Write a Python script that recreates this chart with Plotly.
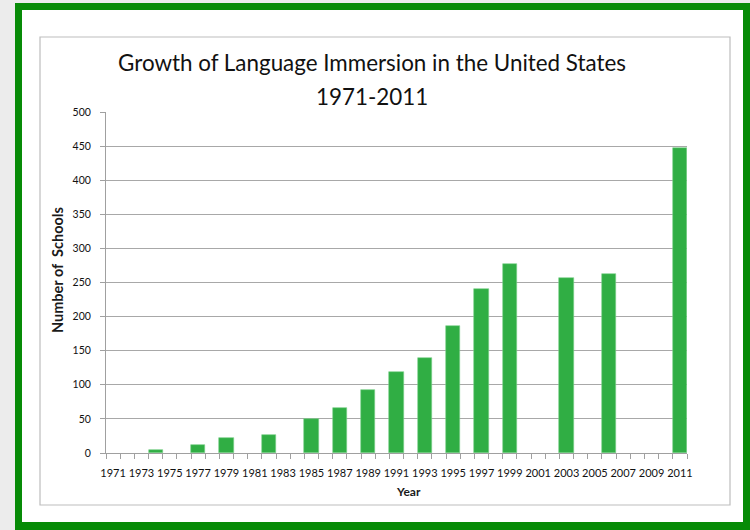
import plotly.graph_objects as go

# ---- data ----
years = [1974, 1977, 1979, 1982, 1985, 1987, 1989, 1991, 1993, 1995, 1997, 1999, 2003, 2006, 2011]
schools = [4, 12, 22, 27, 50, 66, 93, 119, 139, 186, 241, 277, 257, 262, 447]
tick_years = list(range(1971, 2012, 2))
tick_labels = [str(y) for y in tick_years]
y_ticks = list(range(0, 501, 50))
title_line1 = "Growth of Language Immersion in the United States"
title_line2 = "1971-2011"
x_title = "Year"
y_title = "Number of  Schools"

W, H = 750, 530
L, R, T, B = 106, 63, 112, 77
PW, PH = W - L - R, H - T - B


def px_x(px):
    return (px - L) / PW


def px_y(py):
    return 1 - (py - T) / PH


fig = go.Figure()
fig.add_trace(go.Bar(
    x=years, y=schools, width=1,
    marker=dict(color="#30ae44", line=dict(color="#7ad089", width=0.6)),
    showlegend=False,
))

shapes = [
    dict(type="rect", xref="paper", yref="paper", layer="below",
         x0=px_x(15), x1=px_x(770), y0=px_y(3), y1=px_y(545),
         fillcolor="#078b07", line=dict(width=0)),
    dict(type="rect", xref="paper", yref="paper", layer="below",
         x0=px_x(22), x1=px_x(743), y0=px_y(10), y1=px_y(522),
         fillcolor="white", line=dict(width=0)),
    dict(type="rect", xref="paper", yref="paper", layer="below",
         x0=px_x(40), x1=px_x(730), y0=px_y(37), y1=px_y(505),
         fillcolor="rgba(0,0,0,0)", line=dict(color="#bdbdbd", width=1.2)),
]

annotations = [
    dict(text=title_line2, xref="paper", yref="paper", x=px_x(372), y=px_y(96),
         xanchor="center", yanchor="middle", showarrow=False,
         font=dict(family="Lato", size=22.4, color="#111111")),
    dict(text="<b>" + x_title + "</b>", xref="paper", yref="paper", x=px_x(409), y=px_y(492),
         xanchor="center", yanchor="middle", showarrow=False,
         font=dict(family="Lato", size=12, color="#1a1a1a")),
    dict(text="<b>" + y_title + "</b>", xref="paper", yref="paper", x=px_x(57), y=px_y(270),
         xanchor="center", yanchor="middle", showarrow=False, textangle=-90,
         font=dict(family="Lato", size=14.5, color="#1a1a1a")),
]

fig.update_layout(
    width=W, height=H,
    margin=dict(l=L, r=R, t=T, b=B),
    paper_bgcolor="#ececec",
    plot_bgcolor="white",
    shapes=shapes,
    annotations=annotations,
    font=dict(family="Lato", color="#1a1a1a"),
    title=dict(
        text=title_line1,
        x=372 / W, xref="container", xanchor="center",
        y=1 - 63 / H, yref="container", yanchor="middle",
        font=dict(family="Lato", size=22.4, color="#111111"),
    ),
    bargap=0,
)

fig.update_xaxes(
    range=[1970.5, 2011.5],
    tickmode="array", tickvals=tick_years, ticktext=tick_labels,
    ticks="", showgrid=False, ticklabelstandoff=10,
    showline=True, linecolor="#a0a0a0", linewidth=1,
    tickfont=dict(family="Lato", size=11, color="#111111"),
    minor=dict(ticks="outside", ticklen=5, tick0=1970.5, dtick=1,
               tickcolor="#a0a0a0", tickwidth=1, showgrid=False),
    zeroline=False,
)
fig.update_yaxes(
    range=[0, 500], tickmode="array", tickvals=y_ticks,
    showgrid=True, gridcolor="#a8a8a8", gridwidth=1,
    showline=True, linecolor="#a0a0a0", linewidth=1,
    ticks="outside", ticklen=5, tickcolor="#a0a0a0", ticklabelstandoff=7,
    tickfont=dict(family="Lato", size=10.5, color="#111111"),
    zeroline=False,
)

fig.write_html("out.html", config={"displayModeBar": False},
               post_script="document.body.style.margin='0px';")
